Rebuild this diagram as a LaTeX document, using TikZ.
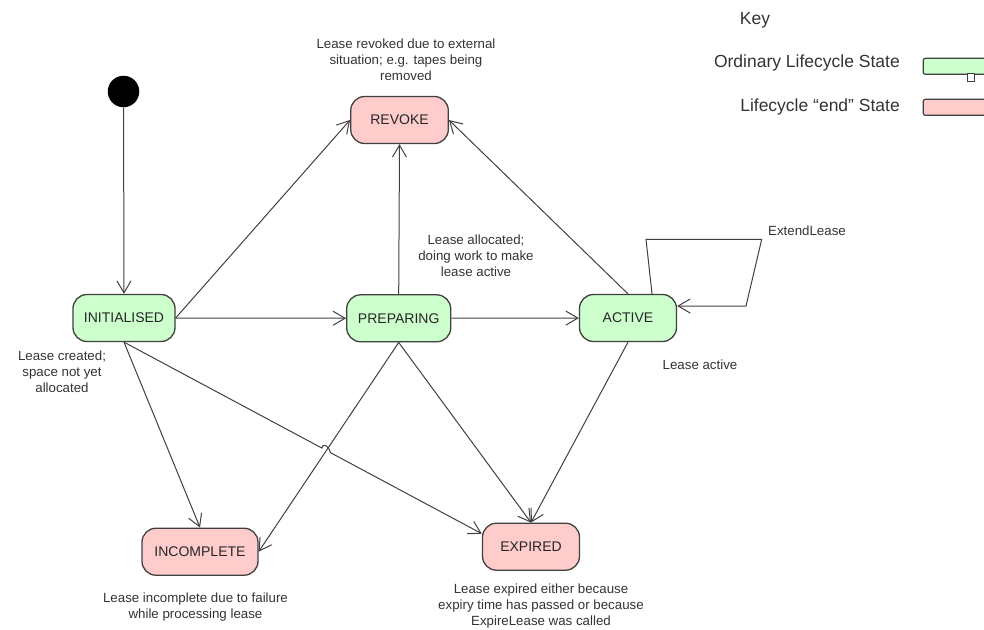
\documentclass[tikz,border=0pt]{standalone}
\usepackage{fontspec}
\setmainfont{Liberation Sans}
\usetikzlibrary{arrows.meta,calc}
\definecolor{stgreen}{HTML}{CCFFCC}
\definecolor{stpink}{HTML}{FFCCCC}
\definecolor{edgecol}{HTML}{404040}
\definecolor{txtcol}{HTML}{333333}
\begin{document}
\begin{tikzpicture}[x=1pt,y=-1pt,
  statebox/.style={draw=edgecol,line width=1.3pt,rounded corners=14pt,minimum height=47pt,inner sep=0pt,
    text=black!85,font=\fontsize{14}{16}\selectfont},
  ordstate/.style={statebox,fill=stgreen},
  endstate/.style={statebox,fill=stpink},
  edge/.style={draw=edgecol,line width=1pt,-{Straight Barb[length=12pt,width=14pt,line width=1pt]}},
  lbl/.style={align=center,text=txtcol,inner sep=0pt,font=\fontsize{13.3}{16}\selectfont},
  keytxt/.style={text=txtcol,inner sep=0pt,font=\fontsize{17.5}{20}\selectfont},
  keybox/.style={draw=edgecol,line width=1.2pt,rounded corners=2pt}
]
\useasboundingbox (0,0) rectangle (984,629);

% start
\node[circle,fill=black,minimum size=31.5pt,inner sep=0pt] (start) at (123.5,91.5) {};

% states
\node[ordstate,minimum width=102pt] (init) at (124,318) {INITIALISED};
\node[ordstate,minimum width=104pt] (prep) at (398.7,318.3) {PREPARING};
\node[ordstate,minimum width=97pt] (active) at (628,318) {ACTIVE};
\node[endstate,minimum width=97.6pt] (revoke) at (399.5,120) {REVOKE};
\node[endstate,minimum width=116pt] (incomplete) at (200,551.7) {INCOMPLETE};
\node[endstate,minimum width=97pt] (expired) at (531,546.7) {EXPIRED};

% labels
\node[lbl] (lrev) at (406,60) {Lease revoked due to external\\situation; e.g. tapes being\\removed};
\node[lbl] (lalloc) at (476,256) {Lease allocated;\\doing work to make\\lease active};
\node[lbl] (lcreated) at (62,372) {Lease created;\\space not yet\\allocated};
\node[lbl] (lactive) at (700,365) {Lease active};
\node[lbl] (lincomp) at (195.5,607.5) {Lease incomplete due to failure\\while processing lease};
\node[lbl] (lexp) at (541,606) {Lease expired either because\\expiry time has passed or because\\ExpireLease was called};
\node[lbl] (lext) at (807,231) {ExtendLease};

% key
\node[keytxt] (keyt) at (755,20) {Key};
\node[keytxt,anchor=east] (ko) at (900,63) {Ordinary Lifecycle State};
\node[keytxt,anchor=east] (ke) at (900,107) {Lifecycle “end” State};
\draw[keybox,fill=stgreen] (923.3,58.3) rectangle (995,74.3);
\draw[draw=edgecol,line width=1pt,fill=white] (967,73.5) rectangle (974.3,81.7);
\draw[keybox,fill=stpink] (923.3,99.3) rectangle (995,115.3);

% edges
\draw[edge] (start) -- (init.north);
\draw[edge] (init.east) -- (revoke.west);
\draw[edge] (init) -- (prep);
\draw[edge] (prep) -- (active);
\draw[edge] (prep.north) -- (revoke.south);
\draw[edge] (active.north) -- (revoke.east);
\draw[edge] (init.south) -- (incomplete.north);
\coordinate (jexp) at ([yshift=13pt]expired.west);
\coordinate (j1) at ($(init.south)!0.553!(jexp)$);
\coordinate (j2) at ($(init.south)!0.577!(jexp)$);
\draw[edge] (init.south) -- (j1) .. controls +(1,-6) and +(-1,-6) .. (j2) -- (jexp);
\draw[edge] (prep.south) -- (incomplete.east);
\draw[edge] (prep.south) -- (expired.north);
\draw[edge] (active.south) -- (expired.north);

% self loop
\coordinate (s0) at ([xshift=24pt]active.north);
\coordinate (s1) at (646,239.3);
\coordinate (s2) at (761.7,239.3);
\coordinate (s3) at (746,306);
\coordinate (s4) at ([yshift=12pt]active.east);
\draw[edge] (s0) -- (s1) -- (s2) -- (s3) -- (s4);
\end{tikzpicture}
\end{document}
